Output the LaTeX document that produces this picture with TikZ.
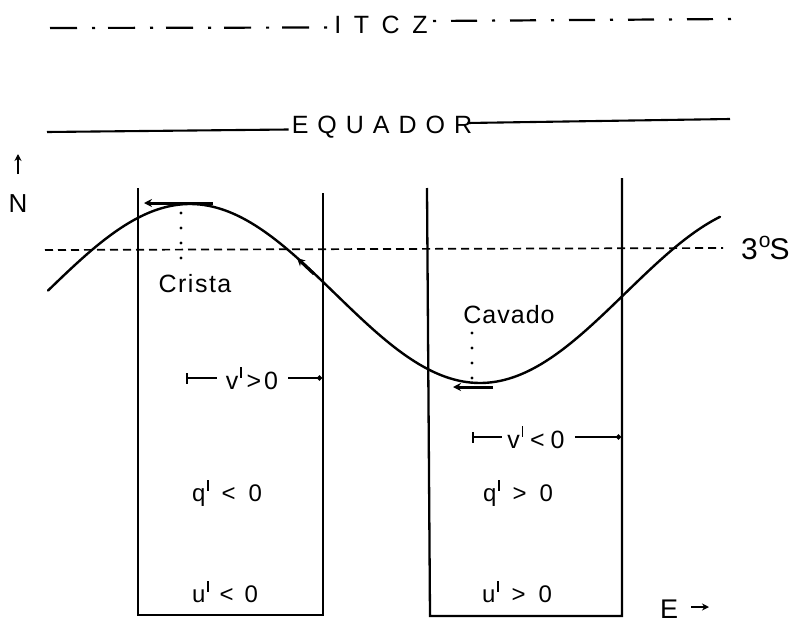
\documentclass[tikz,border=0pt]{standalone}
\usepackage{fontspec}
\setmainfont{Liberation Sans}
\usetikzlibrary{arrows.meta}
\newcommand\prm{\kern1.8pt\raisebox{0.45em}{\rule{1.3pt}{0.45em}}}
\begin{document}
\begin{tikzpicture}[x=1pt,y=-1pt,
  lbl/.style={inner sep=0pt, font=\fontsize{24}{26}\selectfont},
  big/.style={inner sep=0pt, font=\fontsize{25}{27}\selectfont},
  wall/.style={line width=2.3pt},
  curveline/.style={line width=2.4pt},
  windarrow/.style={line width=3pt, -{Stealth[length=8pt,width=8pt]}},
  dotline/.style={line width=3.4pt, line cap=round, dash pattern=on 0pt off 15pt},
  itczline/.style={line width=2.2pt},
  dimline/.style={line width=1.9pt}
  ]
\useasboundingbox (0,0) rectangle (793,624);

% ITCZ
\node[big] (itcz) at (381,25) {\addfontfeature{LetterSpace=50}ITCZ};
\coordinate (itczL1) at (50,28);
\coordinate (itczL2) at (327,27.5);
\coordinate (itczR1) at (433,21);
\coordinate (itczR2) at (731,19);
\draw[itczline, dash pattern=on 27pt off 15pt on 3pt off 13pt] (itczL1) -- (itczL2);
\draw[itczline, dash pattern=on 3pt off 15pt on 26pt off 15pt] (itczR1) -- (itczR2);

% Equator
\node[big] (equ) at (382,127) {\addfontfeature{LetterSpace=36}EQUADOR};
\coordinate (eqL1) at (47,132);
\coordinate (eqR2) at (730,119);
\draw[line width=2.1pt] (eqL1) -- ([xshift=-3pt]equ.west |- 0,129.5) ;
\draw[line width=2.1pt] ([xshift=-5pt]equ.east |- 0,123) -- (eqR2);

% 3 S line
\coordinate (sL) at (45,250);
\coordinate (sR) at (723,248);
\draw[line width=1.7pt, dash pattern=on 8pt off 5pt] (sL) -- (sR);
\node[inner sep=0pt, font=\fontsize{30}{32}\selectfont, anchor=west] (s3) at (741,248) {3\kern1pt\raisebox{0.42em}{\fontsize{21}{22}\selectfont o}\kern-1pt S};

% boxes
\coordinate (b1tl) at (138,188);
\coordinate (b1bl) at (138,615);
\coordinate (b1br) at (323,615);
\coordinate (b1tr) at (323,193);
\draw[wall] (b1tl) -- (b1bl) -- (b1br) -- (b1tr);
\coordinate (b2tl) at (427,188);
\coordinate (b2bl) at (430,616);
\coordinate (b2br) at (622,616);
\coordinate (b2tr) at (622,178);
\draw[wall] (b2tl) -- (b2bl) -- (b2br) -- (b2tr);

% wave
\draw[curveline, line cap=round] plot[domain=48:720, samples=160, smooth] (\x, {293.5-89.5*cos((\x-190)*0.62069)});

% wind arrows on the wave
\coordinate (c1a) at (213,203);
\coordinate (c1b) at (144,203);
\draw[windarrow] (c1a) -- (c1b);
\coordinate (c2a) at (314,274);
\coordinate (c2b) at (297,258);
\draw[windarrow] (c2a) -- (c2b);
\coordinate (c3a) at (493,387);
\coordinate (c3b) at (453,387);
\draw[windarrow] (c3a) -- (c3b);

% crest / trough
\coordinate (dc1) at (181,213);
\coordinate (dc2) at (181,268);
\draw[dotline] (dc1) -- (dc2);
\node[big] (crista) at (195,284) {\addfontfeature{LetterSpace=6}Crista};
\coordinate (dt1) at (472,333);
\coordinate (dt2) at (472,379);
\draw[dotline] (dt1) -- (dt2);
\node[big] (cavado) at (509,315) {\addfontfeature{LetterSpace=4}Cavado};

% v' labels
\node[big] (v1) at (252,378) {v\prm\hspace{5pt}>\hspace{3pt}0};
\coordinate (v1l) at (186,378);
\coordinate (v1r) at (322,378);
\draw[dimline, {Bar[width=11pt]}-] (v1l) -- ([xshift=-9pt]v1.west);
\draw[dimline, -{Circle[length=5pt]}] ([xshift=10pt]v1.east) -- (v1r);
\node[big] (v2) at (536,437) {v\prm\hspace{7pt}<\hspace{6pt}0};
\coordinate (v2l) at (472,437);
\coordinate (v2r) at (621,437);
\draw[dimline, {Bar[width=11pt]}-] (v2l) -- ([xshift=-5pt]v2.west);
\draw[dimline, -{Circle[length=5pt]}] ([xshift=10pt]v2.east) -- (v2r);

% q', u'
\node[lbl] (q1) at (227,493) {q\prm\hspace{13pt}<\hspace{13pt}0};
\node[lbl] (u1) at (225,592) {u\prm\hspace{11pt}<\hspace{11pt}0};
\node[lbl] (q2) at (518,493) {q\prm\hspace{13pt}>\hspace{13pt}0};
\node[lbl] (u2) at (517,592) {u\prm\hspace{13pt}>\hspace{13pt}0};

% N and E
\node[inner sep=0pt, font=\fontsize{26}{28}\selectfont] (N) at (18,204) {N};
\coordinate (Na) at (18,174);
\coordinate (Nb) at (18,154);
\draw[line width=1.9pt, -{Stealth[length=7pt,width=7pt]}] (Na) -- (Nb);
\node[inner sep=0pt, font=\fontsize{27}{29}\selectfont] (E) at (669,609) {E};
\coordinate (Ea) at (691,607);
\coordinate (Eb) at (709,607);
\draw[line width=1.9pt, -{Stealth[length=7pt,width=7pt]}] (Ea) -- (Eb);
\end{tikzpicture}
\end{document}
